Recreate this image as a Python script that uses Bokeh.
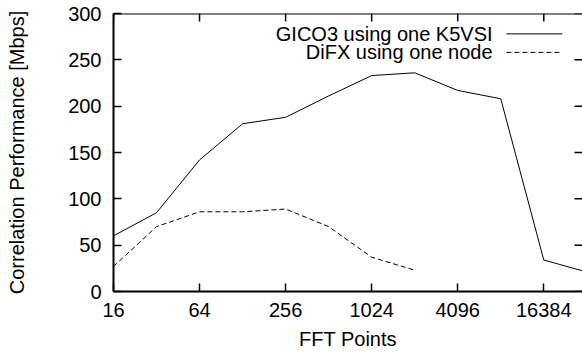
import math
from bokeh.plotting import figure
from bokeh.models import Range1d, FixedTicker, Label, BasicTickFormatter, Span
from bokeh.embed import file_html
from bokeh.resources import INLINE

# data
fft_points = [16, 32, 64, 128, 256, 512, 1024, 2048, 4096, 8192, 16384, 32768]
gico3 = [60, 85, 142, 181, 188, 211, 233, 236, 217, 208, 34, 21]
difx_points = [16, 32, 64, 128, 256, 512, 1024, 2048]
difx = [27, 70, 86, 86, 89, 70, 37, 23]
x_ticks = [16, 64, 256, 1024, 4096, 16384]
y_ticks = [0, 50, 100, 150, 200, 250, 300]
series_names = ["GICO3 using one K5VSI", "DiFX using one node"]

FONT = "Liberation Sans"
FS = "20px"
X_END = 2 ** 14.9
Y_END = 300
DASH = "5 3"

p = figure(width=582, height=352, x_axis_type="log",
           x_range=Range1d(16, X_END), y_range=Range1d(0, Y_END),
           output_backend="svg", toolbar_location=None,
           min_border_left=113, min_border_right=0, min_border_top=13, min_border_bottom=61)
p.outline_line_color = None
p.grid.visible = False
p.background_fill_color = "white"

def style_axis(ax):
    ax.major_tick_in = 8
    ax.major_tick_out = 0
    ax.minor_tick_in = 0
    ax.minor_tick_out = 0
    ax.axis_line_width = 2
    ax.major_tick_line_width = 1.5
    ax.axis_line_color = "black"
    ax.major_tick_line_color = "black"
    ax.major_label_text_font = FONT
    ax.major_label_text_font_size = FS
    ax.major_label_text_color = "black"
    ax.axis_label_text_font = FONT
    ax.axis_label_text_font_size = FS
    ax.axis_label_text_font_style = "normal"
    ax.axis_label_text_color = "black"

xa = p.xaxis[0]
xa.ticker = FixedTicker(ticks=x_ticks)
xa.formatter = BasicTickFormatter(use_scientific=False)
xa.axis_label = "FFT Points"
xa.major_label_standoff = 11
xa.axis_label_standoff = 8
style_axis(xa)

ya = p.yaxis[0]
ya.ticker = FixedTicker(ticks=y_ticks)
ya.axis_label = "Correlation Performance [Mbps]"
ya.major_label_standoff = 12
ya.axis_label_standoff = 37
style_axis(ya)

# top border line and mirrored ticks (top and right), clipped to the frame
p.add_layout(Span(location=Y_END, dimension="width", line_color="black", line_width=2))
p.scatter(x=x_ticks, y=[Y_END] * len(x_ticks), marker="dash", size=16, angle=math.pi / 2,
          line_color="black", line_width=1.5)
p.scatter(x=[X_END] * len(y_ticks), y=y_ticks, marker="dash", size=16,
          line_color="black", line_width=1.5)

p.line(fft_points, gico3, line_color="black", line_width=1)
p.line(difx_points, difx, line_color="black", line_width=1, line_dash=DASH)

# legend (text right aligned, sample line to the right)
leg_y = [278, 258]
dashes = ["solid", DASH]
for name, yy, dash in zip(series_names, leg_y, dashes):
    p.add_layout(Label(x=7180, y=yy, text=name, text_align="right", text_baseline="middle",
                       text_font=FONT, text_font_size=FS, text_color="black"))
    p.segment(x0=[8970], y0=[yy], x1=[22100], y1=[yy], line_color="black", line_width=1, line_dash=dash)

open("out.html", "w").write(file_html(p, INLINE))
